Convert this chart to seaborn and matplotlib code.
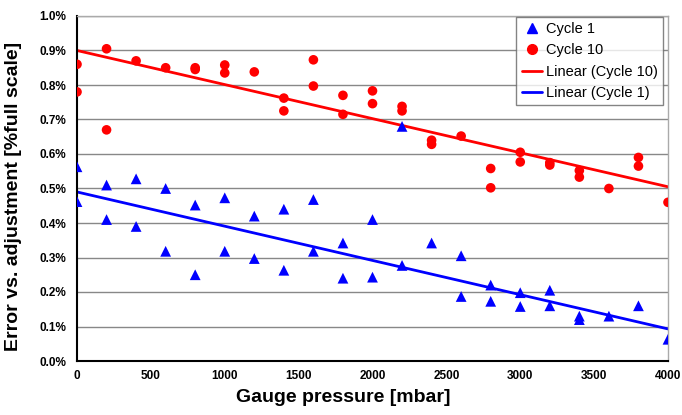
import numpy as np
import pandas as pd
import matplotlib
matplotlib.use("Agg")
import matplotlib.pyplot as plt
from matplotlib.ticker import FuncFormatter, MultipleLocator
from matplotlib.lines import Line2D
import seaborn as sns

# readings (percent of full scale) per gauge pressure [mbar]
pressure_c10 = [0, 0, 200, 200, 400, 600, 800, 800, 1000, 1000, 1200, 1400, 1400,
                1600, 1600, 1800, 1800, 2000, 2000, 2200, 2200, 2400, 2400, 2600,
                2800, 2800, 3000, 3000, 3200, 3200, 3400, 3400, 3600, 3800, 3800, 4000]
error_c10 = [0.86, 0.78, 0.905, 0.67, 0.87, 0.85, 0.85, 0.845, 0.858, 0.835, 0.838,
             0.762, 0.725, 0.873, 0.797, 0.77, 0.715, 0.783, 0.746, 0.738, 0.725,
             0.64, 0.628, 0.652, 0.558, 0.502, 0.605, 0.577, 0.575, 0.568, 0.552,
             0.533, 0.50, 0.59, 0.565, 0.46]

pressure_c1 = [0, 0, 200, 200, 400, 400, 600, 600, 800, 800, 1000, 1000, 1200, 1200,
               1400, 1400, 1600, 1600, 1800, 1800, 2000, 2000, 2200, 2200, 2400,
               2600, 2600, 2800, 2800, 3000, 3000, 3200, 3200, 3400, 3400, 3600,
               3800, 4000]
error_c1 = [0.563, 0.462, 0.51, 0.41, 0.528, 0.39, 0.50, 0.318, 0.452, 0.25, 0.473,
            0.318, 0.42, 0.297, 0.44, 0.263, 0.468, 0.318, 0.342, 0.24, 0.41, 0.243,
            0.68, 0.277, 0.342, 0.305, 0.187, 0.22, 0.173, 0.198, 0.158, 0.205, 0.16,
            0.13, 0.12, 0.13, 0.16, 0.063]

# linear trend lines as shown on the chart (end values)
trend_p = [0, 4000]
trend_c10 = [0.900, 0.505]
trend_c1 = [0.490, 0.093]

df10 = pd.DataFrame({"p": pressure_c10, "e": error_c10})
df1 = pd.DataFrame({"p": pressure_c1, "e": error_c1})
trend = pd.DataFrame({"p": trend_p, "c10": trend_c10, "c1": trend_c1})

sns.set_style("white")
plt.rcParams["font.family"] = ["Liberation Sans", "DejaVu Sans"]
plt.rcParams["text.color"] = "black"
plt.rcParams["axes.labelcolor"] = "black"

fig = plt.figure(figsize=(6.82, 4.15), dpi=100)
ax = fig.add_axes([77 / 682, 1 - 361 / 415, 591 / 682, 345 / 415])

sns.lineplot(data=trend, x="p", y="c10", ax=ax, color="#ff0000", lw=2)
sns.lineplot(data=trend, x="p", y="c1", ax=ax, color="#0000ff", lw=2)

sns.scatterplot(data=df1, x="p", y="e", ax=ax, marker="^", color="#0000ff",
                s=60, edgecolor="none", zorder=3)
sns.scatterplot(data=df10, x="p", y="e", ax=ax, marker="o", color="#ff0000",
                s=48, edgecolor="none", zorder=3)

ax.set_xlim(0, 4000)
ax.set_ylim(0, 1.0)
ax.xaxis.set_major_locator(MultipleLocator(500))
ax.yaxis.set_major_locator(MultipleLocator(0.1))
ax.yaxis.set_major_formatter(FuncFormatter(lambda v, _: f"{v:.1f}%"))
ax.grid(axis="y", color="#888888", lw=1)
ax.set_axisbelow(True)

for s in ["top", "right"]:
    ax.spines[s].set_color("#aaaaaa")
    ax.spines[s].set_linewidth(1)
for s in ["left", "bottom"]:
    ax.spines[s].set_color("black")
    ax.spines[s].set_linewidth(1.5)

ax.tick_params(axis="both", direction="inout", length=6, width=1.2,
               labelsize=8.5, colors="black")
ax.tick_params(axis="y", direction="out", length=4)
for lbl in ax.get_xticklabels() + ax.get_yticklabels():
    lbl.set_fontweight("bold")

ax.set_xlabel("Gauge pressure [mbar]", fontsize=14, fontweight="bold", color="black")
ax.set_ylabel("Error vs. adjustment [%full scale]", fontsize=14, fontweight="bold",
              color="black")
ax.xaxis.set_label_coords(0.45, -0.082)
ax.yaxis.set_label_coords(-0.093, 0.478)

handles = [
    Line2D([], [], ls="none", marker="^", color="#0000ff", ms=7),
    Line2D([], [], ls="none", marker="o", color="#ff0000", ms=7),
    Line2D([], [], color="#ff0000", lw=2),
    Line2D([], [], color="#0000ff", lw=2),
]
labels = ["Cycle 1", "Cycle 10", "Linear (Cycle 10)", "Linear (Cycle 1)"]
leg = ax.legend(handles, labels, loc="upper right", bbox_to_anchor=(0.992, 0.997),
                fontsize=10.5, frameon=True, fancybox=False, handlelength=1.4,
                handletextpad=0.3, borderpad=0.35, labelspacing=0.5,
                borderaxespad=0)
leg.get_frame().set_edgecolor("#666666")
leg.get_frame().set_linewidth(1)
for t in leg.get_texts():
    t.set_color("black")

fig.savefig("out.png", dpi=100)
